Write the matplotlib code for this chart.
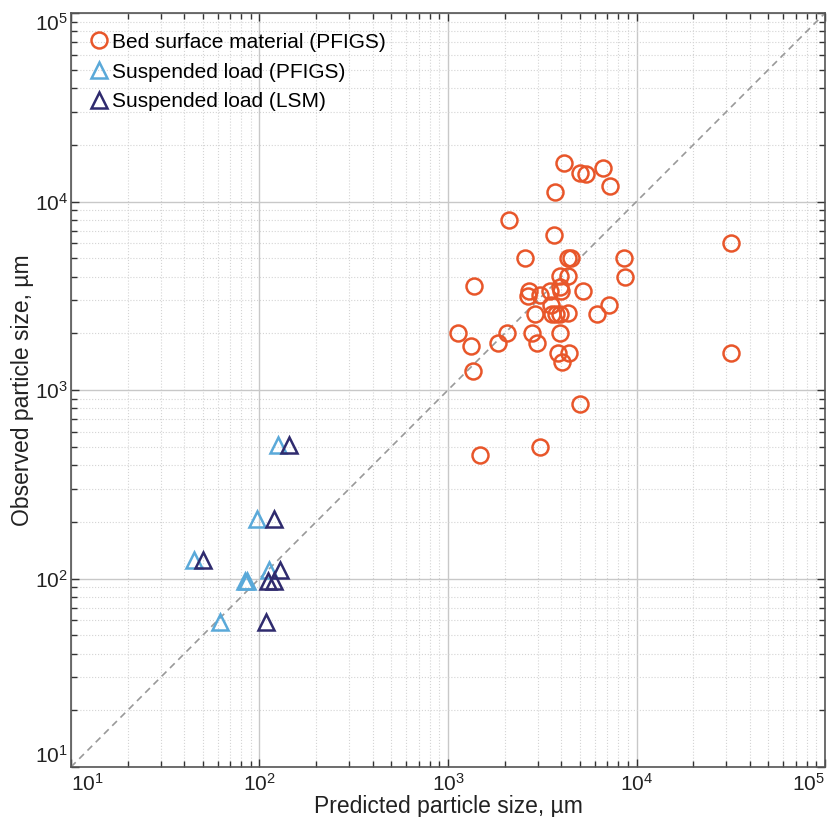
import numpy as np
import matplotlib
matplotlib.use("Agg")
import matplotlib.pyplot as plt

plt.rcParams['font.family'] = ['Liberation Sans', 'DejaVu Sans']
plt.rcParams['mathtext.fontset'] = 'custom'
plt.rcParams['mathtext.rm'] = 'Liberation Sans'
plt.rcParams['mathtext.it'] = 'Liberation Sans'
plt.rcParams['mathtext.bf'] = 'Liberation Sans'

# Bed surface material (PFIGS): predicted vs observed, um
bed_pred = [4110, 5015, 5370, 6670, 7260, 3700, 2110, 3650, 2560, 4310,
            4480, 8610, 8670, 1378, 3920, 4350, 2700, 2660, 3070, 3490,
            3920, 3960, 5230, 3520, 7120, 2910, 3580, 3760, 3930, 4350,
            6200, 1126, 2060, 2780, 3950, 1319, 1853, 2960, 3850, 4370,
            4010, 1356, 4990, 3080, 1472, 31700, 31700]
bed_obs = [15960, 14190, 13930, 15130, 12100, 11240, 8000, 6680, 4990, 5010,
           5010, 5030, 4000, 3550, 4010, 4010, 3350, 3170, 3190, 3370,
           3520, 3350, 3350, 2830, 2830, 2530, 2530, 2530, 2530, 2570,
           2530, 2000, 2000, 2000, 2000, 1715, 1773, 1780, 1580, 1580,
           1400, 1256, 840, 501, 451, 6010, 1580]

# Suspended load (PFIGS)
sus_pfigs_pred = [125, 97, 45, 84, 86, 113, 62]
sus_pfigs_obs = [510, 207, 126, 97, 97, 111, 59]

# Suspended load (LSM)
sus_lsm_pred = [144, 120, 50, 128, 111, 120, 108]
sus_lsm_obs = [510, 207, 126, 111, 97, 97, 59]

fig = plt.figure(figsize=(8.32, 8.17), dpi=100)
ax = fig.add_axes([0.0853, 0.0612, 0.9063, 0.9228])

ax.set_xscale('log')
ax.set_yscale('log')
ax.set_xlim(10, 1e5)
ax.set_ylim(10, 1e5)

ax.grid(True, which='major', color='#c8c8c8', linewidth=1.0, linestyle='-')
ax.grid(True, which='minor', color='#d4d4d4', linewidth=0.8, linestyle=':')
ax.set_axisbelow(True)

ax.plot([10, 1e5], [10, 1e5], linestyle=(0, (4, 3)), color='#999999', linewidth=1.2, zorder=1)

ax.plot(bed_pred, bed_obs, linestyle='none', marker='o', markersize=11.5,
        markerfacecolor='none', markeredgecolor='#e8562a', markeredgewidth=1.8,
        label='Bed surface material (PFIGS)')
ax.plot(sus_pfigs_pred, sus_pfigs_obs, linestyle='none', marker='^', markersize=11,
        markerfacecolor='none', markeredgecolor='#5aa9d9', markeredgewidth=1.8,
        label='Suspended load (PFIGS)')
ax.plot(sus_lsm_pred, sus_lsm_obs, linestyle='none', marker='^', markersize=11,
        markerfacecolor='none', markeredgecolor='#2f2b6e', markeredgewidth=1.8,
        label='Suspended load (LSM)')

decades = [10, 100, 1000, 10000, 100000]
tick_text = [r'$10^{%d}$' % int(np.log10(d)) for d in decades]
ax.set_xticks(decades, labels=tick_text)
ax.set_yticks(decades, labels=tick_text)

ax.tick_params(which='both', direction='in', top=True, right=True, colors='#333333')
ax.tick_params(which='major', length=6, width=1, labelsize=15, labelcolor='#222222')
ax.tick_params(axis='x', which='major', pad=4)
ax.tick_params(axis='y', which='major', pad=2)
ax.tick_params(which='minor', length=4, width=1)
for s in ax.spines.values():
    s.set_color('#555555')
    s.set_linewidth(1.2)

# keep the edge labels inside the plot span
xl = ax.get_xticklabels()
xl[0].set_ha('left')
xl[-1].set_ha('right')
yl = ax.get_yticklabels()
yl[0].set_va('bottom')
yl[-1].set_va('top')

ax.set_xlabel('Predicted particle size, µm', fontsize=16.5, color='#222222')
ax.xaxis.set_label_coords(0.5, -0.037)
ax.set_ylabel('Observed particle size, µm', fontsize=16.5, color='#222222')
ax.yaxis.set_label_coords(-0.049, 0.5)

ax.legend(loc='upper left', frameon=False, fontsize=15, handletextpad=0.15,
          handlelength=1.0, labelspacing=0.52, borderaxespad=0.0,
          bbox_to_anchor=(0.012, 0.985))

fig.savefig('out.png', dpi=100)
